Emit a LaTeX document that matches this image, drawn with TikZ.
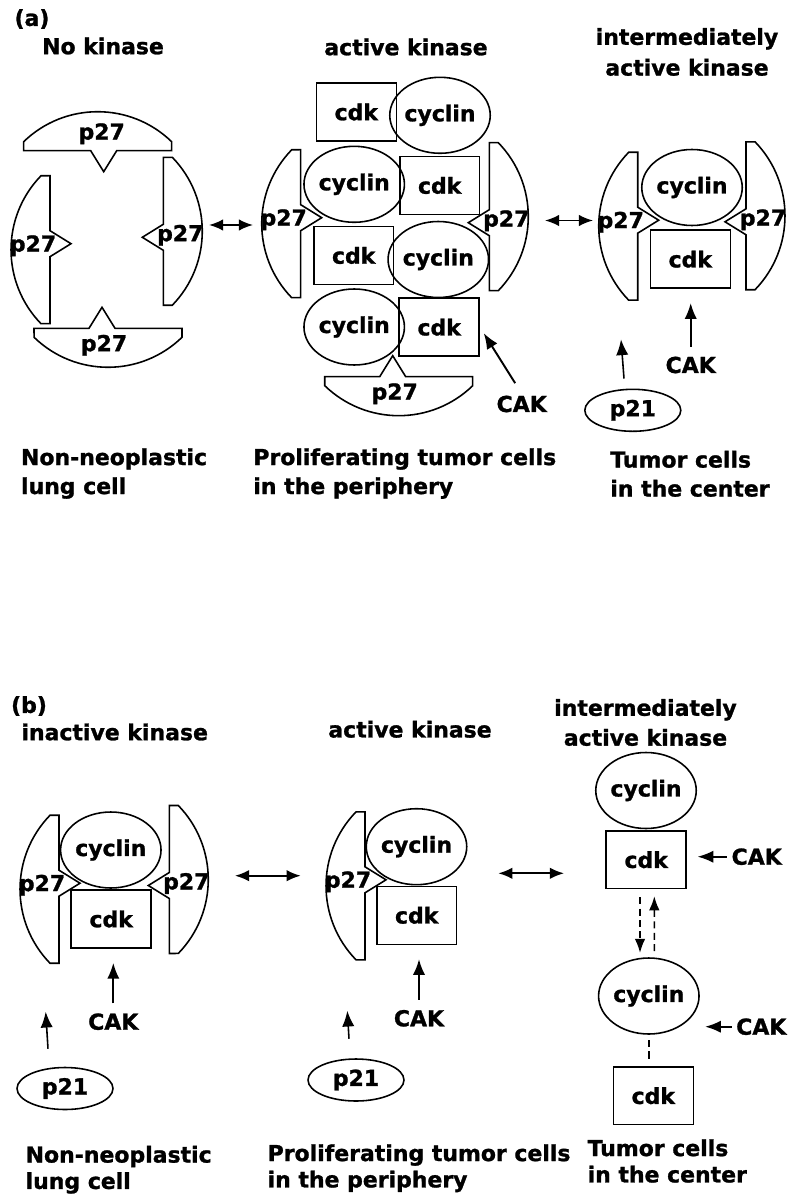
\documentclass[tikz,border=0pt]{standalone}
\usepackage{fontspec}
\setmainfont{DejaVu Sans}[BoldFeatures={FakeBold=1.2}]
\usepackage{tikz}
\usetikzlibrary{arrows.meta,shapes.geometric,positioning}
\tikzstyle{lbl} = [font=\bfseries\fontsize{12.5}{16}\selectfont, inner sep=1pt]
\tikzstyle{cdkbox} = [lbl, rectangle, draw, line width=0.9pt, minimum width=1.6cm, minimum height=1.16cm]
\tikzstyle{cycball} = [lbl, ellipse, draw, line width=0.9pt, minimum width=1.74cm, minimum height=1.52cm, inner sep=0pt]
\tikzstyle{p21ball} = [lbl, ellipse, draw, line width=0.9pt, minimum width=1.92cm, minimum height=0.84cm, inner sep=0pt]
\tikzstyle{title} = [lbl, align=center]
\tikzstyle{caption} = [lbl, align=left, anchor=north west, inner sep=0pt]
\tikzstyle{arrow} = [line width=1.1pt, -{Latex[length=9pt,width=7pt]}]
\tikzstyle{cakarrow} = [arrow, shorten <=4.5pt, shorten >=8pt]
\tikzstyle{exchange} = [line width=1pt, {Latex[length=8pt,width=6.5pt]}-{Latex[length=8pt,width=6.5pt]}]
\tikzstyle{dasharrow} = [line width=0.9pt, dash pattern=on 4pt off 2.5pt, -{Latex[length=8pt,width=6pt]}]

% p27 inhibitor: flat side with a notch, round back
\newcommand{\pxxvii}[3]{%
  \begin{scope}[shift={(#2)}, rotate=#3]
    \draw[line width=0.9pt] (0,74) -- (-9,74) arc[start angle=224.13, end angle=135.87, radius=2.125cm]
      -- (0,-74) -- (0,-19) -- (21,-6) -- (0,7) -- cycle;
    \node[lbl] (#1) at (-17,-4) {p27};
  \end{scope}}

\begin{document}
\begin{tikzpicture}[x=0.02cm, y=-0.02cm]
\path[use as bounding box, fill=white] (0,0) rectangle (794,1199);

%%% (a)
\node[title] (tagA) at (32,19) {(a)};
\node[title] (hdA1) at (103,46) {No kinase};
\node[title] (hdA2) at (406,47) {active kinase};
\node[title, font=\bfseries\fontsize{12.5}{17.5}\selectfont] (hdA3) at (687,52) {intermediately\\active kinase};

% no kinase
\pxxvii{pAt}{97.7,150.7}{-90}
\pxxvii{pAl}{50,249.7}{0}
\pxxvii{pAr}{163.3,231.3}{180}
\pxxvii{pAb}{108,328.3}{90}

% active kinase
\node[cdkbox] (cdkA1) at (356.3,112) {cdk};
\node[cycball] (cycA1) at (440,115.3) {cyclin};
\node[cycball] (cycA2) at (354.2,184.3) {cyclin};
\node[cdkbox] (cdkA2) at (439.7,185.5) {cdk};
\node[cdkbox] (cdkA3) at (353.7,255.5) {cdk};
\node[cycball] (cycA3) at (438.3,259.5) {cyclin};
\node[cycball] (cycA4) at (354.2,327) {cyclin};
\node[cdkbox] (cdkA4) at (439.2,327.2) {cdk};
\pxxvii{pBl}{300.7,223.7}{0}
\pxxvii{pBr}{489.3,216.7}{180}
\pxxvii{pBb}{398.7,376.7}{90}
\node[lbl] (cakA1) at (521.7,404) {CAK};
\draw[arrow, shorten <=7pt, shorten >=4pt] (cakA1.north) -- (cdkA4.east);

% intermediately active kinase
\node[cycball] (cycA5) at (692,187.5) {cyclin};
\node[cdkbox] (cdkA5) at (690.3,259.2) {cdk};
\pxxvii{pCl}{637.7,226.2}{0}
\pxxvii{pCr}{746,215.8}{180}
\node[lbl] (cakA2) at (690.7,365) {CAK};
\draw[cakarrow] (cakA2.north) -- (cakA2.north |- cdkA5.south);
\node[p21ball] (p21A) at (632.8,410.3) {p21};
\coordinate (p21Atip) at (621,339.3);
\draw[arrow, line width=0.9pt] ([shift={(-8.8,-10)}]p21A.north) -- (p21Atip);

% transitions
\coordinate (exA1) at (209,225);
\coordinate (exA2) at (253,225);
\coordinate (exA3) at (545,220.5);
\coordinate (exA4) at (593,220.5);
\draw[exchange] (exA1) -- (exA2);
\draw[exchange] (exA3) -- (exA4);

\node[caption, font=\bfseries\fontsize{12.5}{16.5}\selectfont] (capA1) at (20.7,448) {Non-neoplastic\\lung cell};
\node[caption, font=\bfseries\fontsize{12.5}{16.5}\selectfont] (capA2) at (253,448) {Proliferating tumor cells\\in the periphery};
\node[caption, font=\bfseries\fontsize{12.5}{16.5}\selectfont] (capA3) at (610,450.5) {Tumor cells\\in the center};

%%% (b)
\node[title] (tagB) at (29,706) {(b)};
\node[title] (hdB1) at (114.7,732) {inactive kinase};
\node[title] (hdB2) at (410,729.3) {active kinase};
\node[title, font=\bfseries\fontsize{12.5}{17}\selectfont] (hdB3) at (645.5,722.5) {intermediately\\active kinase};

% inactive kinase
\node[cycball] (cycB1) at (110.8,850) {cyclin};
\node[cdkbox] (cdkB1) at (111.2,919) {cdk};
\pxxvii{pDl}{59,889.2}{0}
\pxxvii{pDr}{169.3,879.5}{180}
\node[lbl] (cakB1) at (113.3,1021.7) {CAK};
\draw[cakarrow] (cakB1.north) -- (cakB1.north |- cdkB1.south);
\node[p21ball] (p21B1) at (65,1088.5) {p21};
\coordinate (p21B1tip) at (45.7,1011.7);
\draw[arrow, line width=0.9pt] ([shift={(-17,-18)}]p21B1.north) -- (p21B1tip);

% active kinase
\node[cycball] (cycB2) at (416.5,846.7) {cyclin};
\node[cdkbox] (cdkB2) at (416.7,915.3) {cdk};
\pxxvii{pEl}{365,885.8}{0}
\node[lbl] (cakB2) at (419,1018.3) {CAK};
\draw[cakarrow] (cakB2.north) -- (cakB2.north |- cdkB2.south);
\node[p21ball] (p21B2) at (356,1080) {p21};
\coordinate (p21B2tip) at (347.3,1010.7);
\draw[arrow, line width=0.9pt] ([shift={(-7,-19.5)}]p21B2.north) -- (p21B2tip);

% intermediately active kinase
\node[cycball] (cycB3) at (646,790.5) {cyclin};
\node[cdkbox] (cdkB3) at (646.2,859.7) {cdk};
\node[cycball] (cycB4) at (648.8,996) {cyclin};
\node[cdkbox] (cdkB4) at (653.3,1095.7) {cdk};
\node[lbl] (cakB3) at (756.7,856.7) {CAK};
\node[lbl] (cakB4) at (761.3,1026.7) {CAK};
\draw[arrow, shorten <=1.5pt, shorten >=6pt] (cakB3.west) -- (cakB3.west -| cdkB3.east);
\draw[arrow, shorten <=1.5pt, shorten >=3pt] (cakB4.west) -- (cakB4.west -| cycB4.east);
\draw[dasharrow] ([shift={(-6.2,7.7)}]cdkB3.south) -- ([shift={(-8.8,-4.3)}]cycB4.north);
\draw[dasharrow] ([shift={(5.5,-6)}]cycB4.north) -- ([shift={(8.1,6.7)}]cdkB3.south);
\draw[line width=0.9pt, dash pattern=on 4pt off 2.5pt, shorten <=3pt, shorten >=3pt] (cycB4.south) -- (cycB4.south |- cdkB4.north);

% transitions
\coordinate (exB1) at (235,875.7);
\coordinate (exB2) at (300.7,875.7);
\coordinate (exB3) at (498.3,873.3);
\coordinate (exB4) at (564,873.3);
\draw[exchange] (exB1) -- (exB2);
\draw[exchange] (exB3) -- (exB4);

\node[caption, font=\bfseries\fontsize{12.5}{15}\selectfont] (capB1) at (25.3,1145.5) {Non-neoplastic\\lung cell};
\node[caption, font=\bfseries\fontsize{12.5}{15}\selectfont] (capB2) at (267.3,1144) {Proliferating tumor cells\\in the periphery};
\node[caption, font=\bfseries\fontsize{12.5}{15}\selectfont] (capB3) at (587.3,1139) {Tumor cells\\in the center};
\end{tikzpicture}
\end{document}
